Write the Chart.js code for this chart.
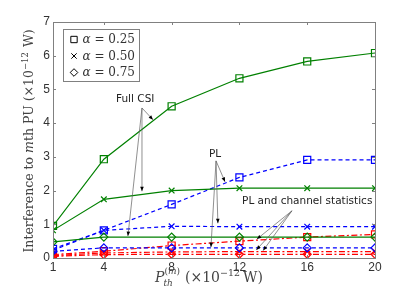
<!DOCTYPE html>
<html>
<head>
<meta charset="utf-8">
<script src="https://cdn.jsdelivr.net/npm/chart.js@4"></script>
<style>
  html, body { margin: 0; padding: 0; background: #fff; }
  canvas { display: block; }
</style>
</head>
<body>
<canvas id="chart" width="415" height="290"></canvas>
<script>
// eixo x (potencia limiar) e valores de interferencia
const xTicks = [1, 4, 8, 12, 16, 20];
const yTicks = [0, 1, 2, 3, 4, 5, 6, 7];
const alphas = ['0.25', '0.50', '0.75'];

// Full CSI
const fullCsi025 = [0.95, 2.93, 4.50, 5.33, 5.83, 6.08];
const fullCsi050 = [0.82, 1.74, 2.00, 2.07, 2.07, 2.07];
const fullCsi075 = [0.48, 0.62, 0.62, 0.62, 0.62, 0.62];

// PL
const pl025 = [0.27, 0.82, 1.59, 2.39, 2.91, 2.91];
const pl050 = [0.23, 0.82, 0.94, 0.93, 0.93, 0.93];
const pl075 = [0.20, 0.30, 0.30, 0.30, 0.30, 0.30];

// PL and channel statistics
const stat025 = [0.10, 0.20, 0.37, 0.50, 0.62, 0.70];
const stat050 = [0.07, 0.15, 0.18, 0.19, 0.19, 0.19];
const stat075 = [0.05, 0.10, 0.11, 0.11, 0.11, 0.11];

const GREEN = '#008000';
const BLUE = '#0000ff';
const RED = '#ff0000';

const markers = [
    { style: 'rect', radius: 5 },
    { style: 'crossRot', radius: 4 },
    { style: 'rectRot', radius: 4 }
];

function toPoints(vals) {
    return vals.map((v, i) => ({ x: xTicks[i], y: v }));
}

function makeSet(label, vals, color, dash, m) {
    return {
        label: label,
        data: toPoints(vals),
        borderColor: color,
        backgroundColor: 'rgba(0,0,0,0)',
        borderWidth: 1.2,
        borderDash: dash,
        pointStyle: m.style,
        pointRadius: m.radius,
        pointBorderWidth: 1.2,
        pointBorderColor: color,
        pointBackgroundColor: 'rgba(0,0,0,0)',
        tension: 0
    };
}

const solid = [];
const dashed = [4, 3];
const dashDot = [6, 2.5, 2, 2.5];

const datasets = [
    makeSet('Full CSI 0.25', fullCsi025, GREEN, solid, markers[0]),
    makeSet('Full CSI 0.50', fullCsi050, GREEN, solid, markers[1]),
    makeSet('Full CSI 0.75', fullCsi075, GREEN, solid, markers[2]),
    makeSet('PL 0.25', pl025, BLUE, dashed, markers[0]),
    makeSet('PL 0.50', pl050, BLUE, dashed, markers[1]),
    makeSet('PL 0.75', pl075, BLUE, dashed, markers[2]),
    makeSet('Stat 0.25', stat025, RED, dashDot, markers[0]),
    makeSet('Stat 0.50', stat050, RED, dashDot, markers[1]),
    makeSet('Stat 0.75', stat075, RED, dashDot, markers[2])
];

// anotacoes em coordenadas de dados: texto, origem das setas e pontas
const notes = [
    { text: 'Full CSI', at: [5.85, 4.72], from: [6.25, 4.45],
      tips: [[6.9, 4.1], [6.25, 1.98], [5.42, 0.65]] },
    { text: 'PL', at: [10.56, 3.09], from: [10.62, 2.88],
      tips: [[11.15, 2.26], [10.73, 1.03], [10.32, 0.32]] },
    { text: 'PL and channel statistics', at: [16.0, 1.69], from: [15.1, 1.40],
      tips: [[13.03, 0.56], [13.0, 0.24], [13.4, 0.22]] }
];

function drawMarker(ctx, style, x, y, r) {
    ctx.beginPath();
    if (style === 'rect') {
        const s = Math.SQRT1_2 * r;
        ctx.rect(x - s, y - s, 2 * s, 2 * s);
    } else if (style === 'crossRot') {
        const s = Math.SQRT1_2 * r;
        ctx.moveTo(x - s, y - s); ctx.lineTo(x + s, y + s);
        ctx.moveTo(x - s, y + s); ctx.lineTo(x + s, y - s);
    } else {
        ctx.moveTo(x - r, y); ctx.lineTo(x, y - r);
        ctx.lineTo(x + r, y); ctx.lineTo(x, y + r);
        ctx.closePath();
    }
    ctx.stroke();
}

// desenha texto com partes em fontes diferentes (sobrescrito/subscrito)
function drawRuns(ctx, runs, x, y) {
    let cx = x;
    runs.forEach(r => {
        ctx.font = r.font;
        ctx.fillText(r.t, cx, y + (r.dy || 0));
        cx += ctx.measureText(r.t).width + (r.gap || 0);
    });
    return cx - x;
}
function runsWidth(ctx, runs) {
    let w = 0;
    runs.forEach(r => { ctx.font = r.font; w += ctx.measureText(r.t).width + (r.gap || 0); });
    return w;
}

const frameAndExtras = {
    id: 'frameAndExtras',
    afterDatasetsDraw(chart) {
        const ctx = chart.ctx;
        const xs = chart.scales.x, ys = chart.scales.y;
        ctx.save();
        notes.forEach(n => {
            const fx = xs.getPixelForValue(n.from[0]);
            const fy = ys.getPixelForValue(n.from[1]);
            n.tips.forEach(t => {
                const tx = xs.getPixelForValue(t[0]);
                const ty = ys.getPixelForValue(t[1]);
                ctx.strokeStyle = '#606060';
                ctx.lineWidth = 0.7;
                ctx.setLineDash([]);
                ctx.beginPath();
                ctx.moveTo(fx, fy);
                ctx.lineTo(tx, ty);
                ctx.stroke();
                const ang = Math.atan2(ty - fy, tx - fx);
                const L = 4.5, W = 1.8;
                ctx.fillStyle = '#000';
                ctx.beginPath();
                ctx.moveTo(tx, ty);
                ctx.lineTo(tx - L * Math.cos(ang) + W * Math.sin(ang), ty - L * Math.sin(ang) - W * Math.cos(ang));
                ctx.lineTo(tx - L * Math.cos(ang) - W * Math.sin(ang), ty - L * Math.sin(ang) + W * Math.cos(ang));
                ctx.closePath();
                ctx.fill();
            });
            ctx.fillStyle = '#222';
            ctx.font = '10.5px "DejaVu Sans", sans-serif';
            ctx.textAlign = 'center';
            ctx.textBaseline = 'middle';
            ctx.fillText(n.text, xs.getPixelForValue(n.at[0]), ys.getPixelForValue(n.at[1]));
        });
        ctx.restore();
    },
    afterDraw(chart) {
        const ctx = chart.ctx;
        const a = chart.chartArea;
        const xs = chart.scales.x, ys = chart.scales.y;
        ctx.save();
        ctx.setLineDash([]);
        // moldura e ticks para dentro
        ctx.strokeStyle = '#808080';
        ctx.lineWidth = 1;
        ctx.strokeRect(Math.round(a.left) + 0.5, Math.round(a.top) + 0.5,
                       Math.round(a.right - a.left), Math.round(a.bottom - a.top));
        ctx.beginPath();
        xTicks.forEach(v => {
            const px = Math.round(xs.getPixelForValue(v)) + 0.5;
            ctx.moveTo(px, a.bottom); ctx.lineTo(px, a.bottom - 3);
            ctx.moveTo(px, a.top); ctx.lineTo(px, a.top + 3);
        });
        yTicks.forEach(v => {
            const py = Math.round(ys.getPixelForValue(v)) + 0.5;
            ctx.moveTo(a.left, py); ctx.lineTo(a.left + 3, py);
            ctx.moveTo(a.right, py); ctx.lineTo(a.right - 3, py);
        });
        ctx.stroke();

        // legenda
        const lx = 63.5, ly = 29.5, lw = 76, lh = 52;
        ctx.fillStyle = '#fff';
        ctx.fillRect(lx, ly, lw, lh);
        ctx.strokeStyle = '#808080';
        ctx.strokeRect(lx, ly, lw, lh);
        alphas.forEach((al, i) => {
            const ry = ly + 10 + i * 16.5;
            ctx.strokeStyle = '#000';
            ctx.lineWidth = 1;
            drawMarker(ctx, markers[i].style, lx + 10.5, ry, i === 0 ? 4.5 : 3.8);
            ctx.fillStyle = '#333';
            ctx.textAlign = 'left';
            ctx.textBaseline = 'middle';
            drawRuns(ctx, [
                { t: 'α', font: 'italic 12px "DejaVu Serif", serif' },
                { t: ' = ' + al, font: '12px "DejaVu Serif", serif' }
            ], lx + 19, ry + 0.5);
        });

        // rotulo do eixo y
        ctx.fillStyle = '#444';
        ctx.textBaseline = 'alphabetic';
        const serif = '12.5px "DejaVu Serif", serif';
        const serifI = 'italic 12.5px "DejaVu Serif", serif';
        const sup = '8.5px "DejaVu Serif", serif';
        const yRuns = [
            { t: 'Interference to ', font: serif },
            { t: 'm', font: serifI },
            { t: 'th PU (×10', font: serif },
            { t: '−12', font: sup, dy: -5, gap: 1 },
            { t: ' W)', font: serif }
        ];
        ctx.save();
        ctx.translate(33, 141);
        ctx.rotate(-Math.PI / 2);
        ctx.textAlign = 'left';
        drawRuns(ctx, yRuns, -runsWidth(ctx, yRuns) / 2, 0);
        ctx.restore();

        // rotulo do eixo x
        const xSerif = '14px "DejaVu Serif", serif';
        const xSup = '9.5px "DejaVu Serif", serif';
        const rest = [
            { t: '(×10', font: xSerif },
            { t: '−12', font: xSup, dy: -6, gap: 3 },
            { t: 'W)', font: xSerif }
        ];
        ctx.textAlign = 'left';
        const x0 = 155;
        ctx.font = 'italic 14px "DejaVu Serif", serif';
        const pw = ctx.measureText('P').width;
        drawRuns(ctx, [{ t: 'P', font: 'italic 14px "DejaVu Serif", serif' }], x0, 282);
        drawRuns(ctx, [{ t: 'th', font: 'italic 9px "DejaVu Serif", serif' }], x0 + pw - 1, 285.5);
        const supW = drawRuns(ctx, [
            { t: '(', font: '9px "DejaVu Serif", serif' },
            { t: 'm', font: 'italic 9px "DejaVu Serif", serif' },
            { t: ')', font: '9px "DejaVu Serif", serif' }
        ], x0 + pw, 274);
        drawRuns(ctx, rest, x0 + pw + supW + 5, 282);
        ctx.restore();
    }
};

new Chart(document.getElementById('chart'), {
    type: 'line',
    data: { datasets: datasets },
    options: {
        responsive: false,
        animation: false,
        devicePixelRatio: 1,
        layout: { padding: { top: 22, right: 40, left: 0, bottom: 0 } },
        plugins: {
            legend: { display: false },
            tooltip: { enabled: false }
        },
        scales: {
            x: {
                type: 'linear',
                min: 1,
                max: 20,
                afterBuildTicks: scale => { scale.ticks = xTicks.map(v => ({ value: v })); },
                afterFit: scale => { scale.height = 32; },
                grid: { display: false, drawTicks: false },
                border: { display: false },
                ticks: {
                    padding: 2,
                    color: '#333',
                    font: { family: '"Liberation Sans", sans-serif', size: 12 },
                    maxRotation: 0
                }
            },
            y: {
                min: 0,
                max: 7,
                afterBuildTicks: scale => { scale.ticks = yTicks.map(v => ({ value: v })); },
                afterFit: scale => { scale.width = 53; },
                grid: { display: false, drawTicks: false },
                border: { display: false },
                ticks: {
                    padding: 3,
                    color: '#333',
                    font: { family: '"Liberation Sans", sans-serif', size: 12 }
                }
            }
        }
    },
    plugins: [frameAndExtras]
});
</script>
</body>
</html>
